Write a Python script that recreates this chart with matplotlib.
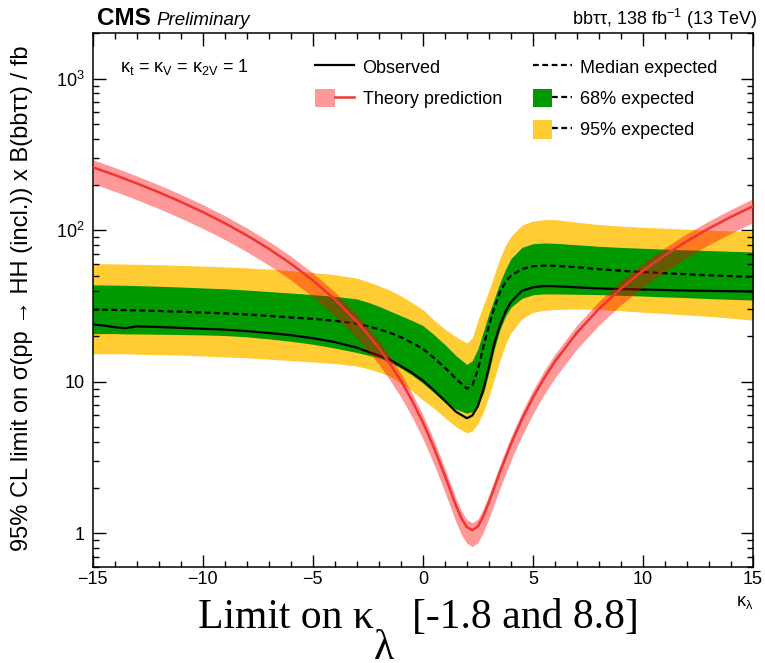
import numpy as np
import matplotlib
matplotlib.use('Agg')
import matplotlib.pyplot as plt
from matplotlib.ticker import FixedLocator, FuncFormatter, LogLocator, MultipleLocator, NullFormatter
from matplotlib.legend_handler import HandlerTuple

plt.rcParams['font.family'] = ['Liberation Sans', 'DejaVu Sans']
plt.rcParams['mathtext.fontset'] = 'custom'
plt.rcParams['mathtext.rm'] = 'Liberation Sans'
plt.rcParams['mathtext.it'] = 'Liberation Sans:italic'
plt.rcParams['mathtext.bf'] = 'Liberation Sans:bold'

# kappa_lambda scan points
kl = [-15, -14.5, -14, -13.5, -13, -12, -11, -10, -9, -8, -7, -6, -5, -4, -3, -2.5, -2,
      -1.5, -1, -0.5, 0, 0.5, 1, 1.5, 2, 2.25, 2.5, 2.75, 3, 3.25, 3.5, 3.75, 4, 4.5,
      5, 5.5, 6, 7, 8, 9, 10, 11, 12, 13, 14, 15]

observed = [23.9, 23.5, 22.9, 22.6, 23.2, 23.0, 22.7, 22.4, 22.1, 21.6, 21.0, 20.3, 19.4,
            18.3, 16.8, 15.8, 14.9, 14.0, 12.7, 11.5, 10.2, 8.8, 7.5, 6.35, 5.75, 6.0, 6.9,
            8.9, 12.5, 18.0, 23.5, 29.0, 33.5, 39.8, 42.0, 42.8, 42.7, 42.0, 41.3, 40.9,
            40.6, 40.3, 40.0, 39.8, 39.6, 39.4]

exp_median = [29.9, 29.9, 29.8, 29.7, 29.6, 29.3, 29.0, 28.6, 28.3, 27.8, 27.2, 26.6, 26.0,
              25.3, 24.2, 23.3, 22.2, 21.1, 19.7, 18.1, 16.5, 14.4, 12.4, 10.5, 9.0, 9.5,
              12.0, 17.0, 23.5, 31.0, 39.0, 45.5, 50.0, 55.5, 57.8, 58.4, 58.2, 57.0, 55.3,
              54.0, 53.0, 52.0, 51.2, 50.4, 49.8, 49.2]

exp68_hi = [43.6, 43.5, 43.4, 43.3, 43.1, 42.7, 42.2, 41.6, 41.1, 40.3, 39.4, 38.5, 37.6,
            36.6, 35.2, 33.5, 31.5, 29.3, 27.3, 25.4, 23.5, 20.5, 17.6, 14.9, 13.0, 13.8,
            16.5, 21.5, 28.0, 35.5, 45.0, 55.0, 65.0, 77.0, 81.5, 82.4, 82.0, 80.2, 78.3,
            77.0, 76.0, 75.0, 74.2, 73.4, 72.6, 71.9]

exp68_lo = [20.8, 20.8, 20.8, 20.7, 20.7, 20.6, 20.5, 20.4, 20.2, 19.8, 19.2, 18.5, 17.7,
            16.7, 15.6, 15.0, 14.4, 13.5, 12.3, 11.1, 9.8, 8.5, 7.3, 6.6, 6.2, 6.35, 7.1,
            8.4, 11.5, 16.5, 22.0, 27.0, 31.0, 35.5, 37.5, 38.0, 38.0, 37.8, 37.6, 37.2,
            36.8, 36.3, 35.9, 35.4, 35.0, 34.6]

exp95_hi = [60.2, 60.1, 60.0, 59.8, 59.6, 59.2, 58.6, 58.0, 57.3, 56.5, 55.4, 54.1, 52.6,
            50.9, 48.3, 45.8, 43.0, 40.2, 36.9, 33.4, 30.0, 25.6, 22.3, 19.8, 18.0, 19.5,
            25.5, 32.0, 40.0, 51.0, 65.0, 79.0, 91.0, 108.0, 115.0, 117.5, 117.5, 113.0,
            109.0, 106.5, 104.5, 103.0, 101.5, 100.0, 99.0, 98.0]

exp95_lo = [15.3, 15.3, 15.3, 15.3, 15.2, 15.1, 15.0, 14.8, 14.6, 14.4, 14.1, 13.8, 13.5,
            13.2, 12.7, 12.2, 11.6, 10.9, 9.8, 8.7, 7.6, 6.7, 5.8, 5.05, 4.6, 4.75, 5.3,
            6.3, 8.0, 10.5, 13.8, 17.5, 21.0, 26.0, 28.7, 29.6, 30.0, 30.2, 30.0, 29.4,
            28.8, 28.2, 27.6, 27.0, 26.3, 25.5]

# theory prediction (sigma x B in fb)
kl_theory = [-15, -14, -13, -12, -11, -10, -9, -8, -7, -6, -5, -4, -3, -2.5, -2, -1.5, -1,
             -0.5, 0, 0.5, 1, 1.5, 1.75, 2, 2.25, 2.5, 2.75, 3, 3.5, 4, 4.5, 5, 5.5, 6,
             7, 8, 9, 10, 11, 12, 13, 14, 15]
theory = [260.6, 231.3, 203.8, 178.0, 154.0, 131.8, 111.3, 92.5, 75.5, 60.2, 46.7, 35.0,
          24.9, 20.6, 16.7, 13.2, 10.17, 7.57, 5.41, 3.69, 2.40, 1.53, 1.26, 1.10, 1.05,
          1.11, 1.30, 1.60, 2.53, 3.87, 5.64, 7.86, 10.5, 13.6, 21.1, 30.3, 41.3, 54.1,
          68.5, 84.8, 102.8, 122.5, 144.0]
theory_unc_up = 0.12
theory_unc_dn = 0.22

yticks = [1, 10, 100, 1000]
ytick_labels = ['1', '10', '$10^{2}$', '$10^{3}$']

green = '#009900'
yellow = '#ffcc33'
red = '#f03535'

fig = plt.figure(figsize=(7.65, 6.63), dpi=100)
ax = fig.add_axes([0.1212, 0.1448, 0.8631, 0.8054])

th = np.array(theory)
fill95 = ax.fill_between(kl, exp95_lo, exp95_hi, color=yellow, lw=0, zorder=1)
fill68 = ax.fill_between(kl, exp68_lo, exp68_hi, color=green, lw=0, zorder=1.1)
med_line, = ax.plot(kl, exp_median, color='black', lw=1.6, ls=(0, (2.6, 1.6)), zorder=2)
obs_line, = ax.plot(kl, observed, color='black', lw=1.6, zorder=2.1)
th_fill = ax.fill_between(kl_theory, th * (1 - theory_unc_dn), th * (1 + theory_unc_up),
                          color='#ff0000', alpha=0.4, lw=0, zorder=3)
th_line, = ax.plot(kl_theory, theory, color=red, lw=1.8, zorder=3.1)

ax.set_yscale('log')
ax.set_xlim(-15, 15)
ax.set_ylim(0.6, 2000)
ax.yaxis.set_major_locator(FixedLocator(yticks))
ax.yaxis.set_major_formatter(FuncFormatter(lambda v, p: ytick_labels[yticks.index(round(v))] if round(v) in yticks else ''))
ax.yaxis.set_minor_locator(LogLocator(base=10, subs=np.arange(2, 10), numticks=50))
ax.yaxis.set_minor_formatter(NullFormatter())
ax.xaxis.set_major_locator(MultipleLocator(5))
ax.xaxis.set_minor_locator(MultipleLocator(1))

ax.tick_params(which='both', direction='in', top=True, right=True, width=1.0, labelsize=13)
ax.tick_params(which='major', length=9)
ax.tick_params(which='minor', length=4.5)
ax.tick_params(axis='x', pad=3)
ax.tick_params(axis='y', pad=6)
for sp in ax.spines.values():
    sp.set_linewidth(1.1)

# legends (two columns)
leg_kw = dict(loc='upper left', frameon=False, fontsize=13, handlelength=2.16,
              handleheight=1.2, labelspacing=0.66, handletextpad=0.47, borderpad=0,
              borderaxespad=0, handler_map={tuple: HandlerTuple(ndivide=None)})
leg1 = ax.legend([obs_line, (th_fill, th_line)], ['Observed', 'Theory prediction'],
                 bbox_to_anchor=(0.3367, 0.954), **leg_kw)
ax.add_artist(leg1)
ax.legend([med_line, (fill68, med_line), (fill95, med_line)],
          ['Median expected', '68% expected', '95% expected'],
          bbox_to_anchor=(0.6668, 0.954), **leg_kw)

ax.text(0.041, 0.9275, r'κ$_\mathregular{t}$ = κ$_\mathregular{V}$ = κ$_\mathregular{2V}$ = 1',
        transform=ax.transAxes, fontsize=13, va='baseline')

# header
fig.text(0.1263, 0.9623, 'CMS', fontsize=17.5, fontweight='bold', va='baseline')
fig.text(0.2039, 0.9623, 'Preliminary', fontsize=13.5, style='italic', va='baseline')
fig.text(0.99, 0.9623, r'bbττ, 138 fb$^\mathregular{-1}$ (13 TeV)', fontsize=13,
         ha='right', va='baseline')

# axis titles
fig.text(0.0294, 0.5498, '95% CL limit on σ(pp → HH (incl.)) x B(bbττ) / fb',
         rotation=90, ha='center', va='center', fontsize=17)
ax.text(1.0, -0.05, r'κ$_\mathregular{λ}$', transform=ax.transAxes, ha='right',
        va='top', fontsize=13)

serif = ['Liberation Serif', 'DejaVu Serif']
fig.text(0.4889, 0.0528, 'Limit on κ', family=serif, fontsize=30, ha='right', va='baseline')
fig.text(0.4889, 0.0498, 'λ', family=serif, fontsize=30, ha='left', va='top')
fig.text(0.5386, 0.0528, '[-1.8 and 8.8]', family=serif, fontsize=30, ha='left', va='baseline')

fig.savefig('out.png', dpi=100)
